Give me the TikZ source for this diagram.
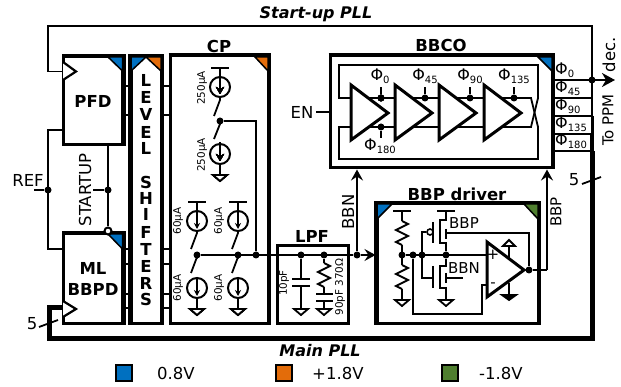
\documentclass[tikz,border=0pt]{standalone}
\usepackage{fontspec}
\setmainfont{DejaVu Sans}
\usepackage{tikz}
\usepackage{xcolor}
\usetikzlibrary{arrows.meta}
\definecolor{lowblue}{HTML}{0070C0}
\definecolor{highorange}{HTML}{E36C0A}
\definecolor{negreen}{HTML}{4F7F2F}
\tikzstyle{block} = [rectangle, draw, line width=3pt, fill=white, inner sep=0pt]
\tikzstyle{wire} = [draw, line width=1.8pt]
\tikzstyle{heavy} = [draw, line width=3pt]
\tikzstyle{bus} = [draw, line width=5pt]
\tikzstyle{dot} = [circle, fill=black, inner sep=0pt, minimum size=7pt]
\tikzstyle{csrc} = [circle, draw, line width=2pt, fill=white, inner sep=0pt, minimum size=20pt]
\tikzstyle{corner} = [draw, line width=1.5pt]
\tikzstyle{flow} = [wire, -{Stealth[length=11pt,width=12pt,inset=4pt]}]
\tikzstyle{title} = [font=\bfseries\fontsize{16.5}{17}\selectfont, inner sep=0pt]
\tikzstyle{banner} = [font=\bfseries\itshape\fontsize{16}{17}\selectfont, inner sep=0pt]
\tikzstyle{lbl} = [font=\fontsize{16.5}{17}\selectfont, inner sep=0pt]
\tikzstyle{mid} = [font=\fontsize{15}{15}\selectfont, inner sep=0pt]
\tikzstyle{philbl} = [font=\fontsize{16}{16}\selectfont, inner sep=0pt]
\tikzstyle{small} = [font=\fontsize{10.4}{11}\selectfont, inner sep=0pt]
\tikzstyle{letter} = [font=\bfseries\fontsize{16.5}{17}\selectfont, inner sep=0pt]
\newcommand{\gnd}[1]{\draw[wire, fill=white] (#1) ++(-7,0) -- ++(14,0) -- ++(-7,6) -- cycle;}
\newcommand{\railbar}[1]{\draw[wire] (#1) ++(-9,0) -- ++(18,0);}
\newcommand{\bufamp}[1]{\draw[heavy, fill=white] (#1,85) -- (#1+37,113) -- (#1,140) -- cycle;}
\newcommand{\phase}[1]{Φ\raisebox{-3pt}{\fontsize{10}{10}\selectfont #1}}
\tikzset{resistor/.pic={\draw[wire] (0,0) -- (6,3) -- (-6,9) -- (6,15) -- (-6,21) -- (0,24);}}
\begin{document}
\begin{tikzpicture}[x=1pt,y=-1pt,>=Stealth]
  \useasboundingbox (0,0) rectangle (621,387);
  % feedback loops
  \coordinate (fb_top) at (592,26);
  \coordinate (phi_a) at (592,80);
  \coordinate (phi_b) at (592,98);
  \coordinate (phi_c) at (592,116);
  \coordinate (phi_d) at (592,134);
  \coordinate (phi_e) at (592,151);
  \coordinate (fb_low) at (592,338);
  \draw[wire] (63,71.5) -| (48,26) -- (fb_top) -- (phi_a);
  \draw[bus] (63,308) -| (49.5,338) -- (fb_low) -- (phi_e);
  \draw[line width=2pt] (phi_a) -- (phi_b);
  \draw[line width=2.5pt] (phi_b) -- (phi_c);
  \draw[line width=3pt] (phi_c) -- (phi_d);
  \draw[line width=4pt] (phi_d) -- (phi_e);

  % blocks
  \node[block, minimum width=59pt, minimum height=88pt] (PFD) at (93,101) {};
  \node[block, minimum width=59pt, minimum height=89pt] (BBPD) at (93,278.5) {};
  \node[block, minimum width=30pt, minimum height=266pt] (LS) at (146,190) {};
  \node[block, minimum width=98pt, minimum height=267pt] (CP) at (219,189.5) {};
  \node[block, minimum width=71pt, minimum height=77pt] (LPF) at (312.5,284.5) {};
  \node[block, minimum width=222pt, minimum height=112pt] (BBCO) at (441,112) {};
  \node[block, minimum width=161pt, minimum height=119pt] (DRV) at (457.5,263.5) {};

  % supply corners
  \draw[corner, fill=lowblue] (108,57) -- (122.5,57) -- (122.5,71) -- cycle;
  \draw[corner, fill=lowblue] (108,234) -- (122.5,234) -- (122.5,249) -- cycle;
  \draw[corner, fill=lowblue] (131,57) -- (146,57) -- (131,71) -- cycle;
  \draw[corner, fill=highorange] (146,57) -- (161,57) -- (161,71) -- cycle;
  \draw[corner, fill=highorange] (255,57) -- (268,57) -- (268,71) -- cycle;
  \draw[corner, fill=lowblue] (538,57) -- (552,57) -- (552,71) -- cycle;
  \draw[corner, fill=lowblue] (377,204) -- (392,204) -- (377,219) -- cycle;
  \draw[corner, fill=negreen] (524,204) -- (538,204) -- (538,219) -- cycle;
  \draw[heavy] (PFD.north west) -- (PFD.north east) -- (PFD.south east);
  \draw[heavy] (BBPD.north west) -- (BBPD.north east) -- (BBPD.south east);
  \draw[heavy] (LS.south west) -- (LS.north west) -- (LS.north east) -- (LS.south east);
  \draw[heavy] (CP.north west) -- (CP.north east) -- (CP.south east);
  \draw[heavy] (BBCO.north west) -- (BBCO.north east) -- (BBCO.south east);
  \draw[heavy] (DRV.south west) -- (DRV.north west) -- (DRV.north east) -- (DRV.south east);

  % clock inputs
  \draw[wire, line width=2.2pt, fill=white] (63,62) -- (76,71.5) -- (63,80);
  \draw[wire, line width=2.2pt, fill=white] (63,301) -- (76,309) -- (63,317);

  % phase outputs
  \foreach \n/\y in {b/98,c/116,d/134,e/151}
    \draw[wire] (552,\y) -- (phi_\n);
  \node[dot] (out_dot) at (phi_a) {};
  \coordinate (out_tip) at (615,80);
  \draw[wire,-{Stealth[length=13pt,width=14pt,inset=4pt]}] (552,80) -- (out_tip);

  % reference and startup
  \node[dot] (ref_dot) at (48,190) {};
  \node[dot] (st_dot) at (108,190) {};
  \node[circle, draw, line width=2pt, fill=white, inner sep=0pt, minimum size=7pt] (st_ring) at (108,231) {};
  \draw[wire] (63,130) -| (48,249) -- (63,249);
  \draw[wire] (34,190) -- (ref_dot);
  \draw[wire] (108,145) -- (st_ring);
  \draw[wire] (93,190) -- (st_dot);

  % level shifter links
  \foreach \y in {86,115,249,264,294,308} {
    \draw[wire] (122,\y) -- (131,\y);
    \draw[wire] (161,\y) -- (170,\y);
  }

  % charge pump
  \node[csrc] (S_up) at (220,87) {};
  \node[csrc] (S_dn) at (220,154) {};
  \node[csrc] (S_a) at (197,221) {};
  \node[csrc] (S_b) at (238,221) {};
  \node[csrc] (S_c) at (197,288) {};
  \node[csrc] (S_d) at (238,288) {};
  \node[dot] (mid) at (220,121) {};
  \node[dot] (out_a) at (197,255) {};
  \node[dot] (out_b) at (238,255) {};
  \node[dot] (out_c) at (256,255) {};
  \coordinate (bar_up) at (220,68);
  \coordinate (bar_a) at (197,202);
  \coordinate (bar_b) at (238,202);
  \coordinate (g_dn) at (220,175);
  \coordinate (g_c) at (197,309);
  \coordinate (g_d) at (238,309);
  \foreach \c in {bar_up,bar_a,bar_b} \railbar{\c}
  \foreach \c in {g_dn,g_c,g_d} \gnd{\c}
  \foreach \s in {S_up,S_dn} \draw[wire,-{Stealth[length=7pt,width=8pt]}] (\s.north) -- ([yshift=4pt]\s.south);
  \foreach \s in {S_a,S_b,S_c,S_d} \draw[wire,line width=1.4pt,-{Stealth[length=6pt,width=6pt]}] (\s.north) -- ([yshift=3pt]\s.south);
  \draw[wire] (bar_up) -- (S_up);
  \draw[wire] (bar_a) -- (S_a);
  \draw[wire] (bar_b) -- (S_b);
  \draw[wire] (S_dn) -- (g_dn);
  \draw[wire] (S_c) -- (g_c);
  \draw[wire] (S_d) -- (g_d);
  \draw[wire] (S_up.south) -- ++(0,2) -- (214,116);
  \draw[wire] (mid) -- ++(0,3) -- (214,139);
  \draw[wire] (S_dn.north) -- ++(0,-1);
  \draw[wire] (S_a.south) -- ++(0,1) -- (191,249);
  \draw[wire] (S_b.south) -- ++(0,1) -- (232,249);
  \draw[wire] (out_a) -- ++(0,2) -- (191,273);
  \draw[wire] (out_b) -- ++(0,2) -- (232,273);
  \draw[wire] (mid) -| (out_c);

  % main node
  \node[dot] (cap_top) at (301,255) {};
  \node[dot] (res_top) at (324,255) {};
  \node[dot] (ctl) at (357,255) {};
  \draw[wire] (out_a) -- (ctl);
  \draw[flow] (ctl) -- (ctl -| DRV.west);
  \draw[flow] (ctl) -- (ctl |- BBCO.south);

  % loop filter
  \coordinate (g_e) at (301,309);
  \coordinate (g_f) at (324,309);
  \draw[wire] (cap_top) -- (301,279) (301,286) -- (g_e);
  \draw[wire] (292,279) -- (310,279) (292,286) -- (310,286);
  \draw[wire] (res_top) -- (324,263);
  \path (324,263) pic {resistor};
  \draw[wire] (324,287) -- (324,294) (324,301) -- (g_f);
  \draw[wire] (316,294) -- (333,294) (316,301) -- (333,301);
  \gnd{g_e}
  \gnd{g_f}

  % oscillator
  \draw[wire] (351,98) -- (339,98) -- (339,65) -- (538,65) -- (538,98) -- (531,127) -- (351,127);
  \draw[wire] (351,127) -- (339,127) -- (339,159) -- (538,159) -- (538,127) -- (531,98) -- (351,98);
  \foreach \x in {351,395,439,484} \bufamp{\x}
  \node[dot] (tap_a) at (381,98) {};
  \node[dot] (tap_b) at (425,98) {};
  \node[dot] (tap_c) at (470,98) {};
  \node[dot] (tap_d) at (514,98) {};
  \node[dot] (tap_e) at (381,127) {};
  \foreach \t in {tap_a,tap_b,tap_c,tap_d} \draw[wire] (\t) -- ++(0,-11);
  \draw[wire] (tap_e) -- ++(0,11);
  \coordinate (en_in) at (316,112);
  \draw[wire] (en_in) -- (BBCO.west);

  % driver
  \coordinate (bar_r) at (402,211);
  \coordinate (bar_m) at (446,211);
  \coordinate (g_r) at (402,300);
  \coordinate (g_m) at (446,300);
  \node[dot] (div) at (402,255) {};
  \node[dot] (fb_n) at (413,255) {};
  \node[dot] (gate) at (422,255) {};
  \node[dot] (drain) at (446,255) {};
  \node[dot] (amp_out) at (529,270) {};
  \railbar{bar_r}
  \railbar{bar_m}
  \draw[wire] (bar_r) -- (402,221) (402,245) -- (402,265) (402,289) -- (g_r);
  \path (402,221) pic {resistor} (402,265) pic {resistor};
  \gnd{g_r}
  \gnd{g_m}
  \draw[wire] (div) -- (487,255);
  \draw[wire] (bar_m) -- (446,220) -- (440,220) -- (440,243) -- (446,243) -- (drain);
  \draw[wire] (drain) -- (446,266) -- (440,266) -- (440,288) -- (446,288) -- (g_m);
  \draw[wire] (433,222) -- (433,243) (433,266) -- (433,288);
  \node[circle, draw, line width=1.6pt, fill=white, inner sep=0pt, minimum size=6pt] (bubble) at (430,232) {};
  \draw[wire] (bubble) -- (422,232) -- (422,278) -- (433,278);
  \draw[wire] (446,229) -- (446,239) (446,273) -- (446,283);
  \draw[wire] (446,233) -- (529,233) -- (amp_out);
  \draw[wire] (446,278) -- (463,278);
  \draw[wire] (fb_n) -- (413,314) -- (482,314) -- (482,285) -- (487,285);
  \draw[wire] (509,240) -- (509,258);
  \draw[wire] (509,283) -- (509,296);
  \draw[wire, fill=white] (503,246) -- (509,240) -- (515,246) -- cycle;
  \draw[wire, fill=black] (502,295) -- (516,295) -- (509,300) -- cycle;
  \draw[heavy] (487,242) -- (524,270) -- (487,297) -- cycle;
  \draw[wire] (524,270) -- (amp_out);
  \coordinate (bbp_bend) at (547,270);
  \draw[wire] (amp_out) -- (bbp_bend);
  \draw[flow] (bbp_bend) -- (bbp_bend |- BBCO.south);

  % legend
  \node[draw, line width=1.5pt, fill=lowblue, minimum size=16pt, inner sep=0pt] (key_low) at (124,373) {};
  \node[draw, line width=1.5pt, fill=highorange, minimum size=16pt, inner sep=0pt] (key_high) at (284,373) {};
  \node[draw, line width=1.5pt, fill=negreen, minimum size=16pt, inner sep=0pt] (key_neg) at (450,373) {};
  \node[lbl, anchor=west] (txt_low) at (157,373) {0.8V};
  \node[lbl, anchor=west] (txt_high) at (312,373) {+1.8V};
  \node[lbl, anchor=west] (txt_neg) at (479,373) {-1.8V};

  % labels
  \node[banner] (t_start) at (316,14) {Start-up PLL};
  \node[banner] (t_main) at (320,351) {Main PLL};
  \node[title] (t_cp) at (219,46) {CP};
  \node[title] (t_bbco) at (441,45) {BBCO};
  \node[title] (t_lpf) at (312,236) {LPF};
  \node[title] (t_drv) at (457,194) {BBP driver};
  \node[title] (t_pfd) at (93,101) {PFD};
  \node[title] (t_ml) at (93,268) {ML};
  \node[title] (t_bbpd) at (93,289) {BBPD};
  \foreach \c/\y in {L/80,E/97,V/114,E/132,L/148,S/182,H/198,I/214,F/232,T/249,E/266,R/283,S/299}
    \node[letter] at (146,\y) {\c};
  \node[lbl, rotate=90] (t_startup) at (85,190) {STARTUP};
  \node[lbl] (t_ref) at (28,180) {REF};
  \node[lbl] (t_en) at (302,112) {EN};
  \node[lbl] (t_five_l) at (32,324) {5};
  \draw[wire] (39,327) -- (58,320);
  \node[lbl] (t_five_r) at (574,180) {5};
  \draw[wire] (582,184) -- (601,177);
  \node[lbl, rotate=90] (t_bbn) at (348,212) {BBN};
  \node[mid, rotate=90] (t_bbp) at (556,212) {BBP};
  \node[mid, rotate=90] (t_ppm) at (608,120) {To PPM};
  \node[lbl, rotate=90] (t_dec) at (609,55) {dec.};
  \node[small, rotate=90] (i_a) at (202,88) {250µA};
  \node[small, rotate=90] (i_b) at (202,155) {250µA};
  \node[small, rotate=90] (i_c) at (178,221) {60µA};
  \node[small, rotate=90] (i_d) at (219,221) {60µA};
  \node[small, rotate=90] (i_e) at (178,288) {60µA};
  \node[small, rotate=90] (i_f) at (219,288) {60µA};
  \node[small, rotate=90] (c_a) at (284,283) {10pF};
  \node[small, rotate=90] (c_b) at (340,287) {90pF 370Ω};
  \node[mid] (t_m_p) at (464,223) {BBP};
  \node[mid] (t_m_n) at (464,268) {BBN};
  \node[mid] (plus) at (493,255) {+};
  \node[mid] (minus) at (493,285) {-};
  \node[philbl, anchor=base] (p_a) at (380,81) {\phase{0}};
  \node[philbl, anchor=base] (p_b) at (425,81) {\phase{45}};
  \node[philbl, anchor=base] (p_c) at (470,81) {\phase{90}};
  \node[philbl, anchor=base] (p_d) at (514,81) {\phase{135}};
  \node[philbl, anchor=base] (p_e) at (380,151) {\phase{180}};
  \node[philbl, anchor=base west] (o_a) at (555,75) {\phase{0}};
  \node[philbl, anchor=base west] (o_b) at (555,93) {\phase{45}};
  \node[philbl, anchor=base west] (o_c) at (555,111) {\phase{90}};
  \node[philbl, anchor=base west] (o_d) at (555,129) {\phase{135}};
  \node[philbl, anchor=base west] (o_e) at (555,146) {\phase{180}};
\end{tikzpicture}
\end{document}
